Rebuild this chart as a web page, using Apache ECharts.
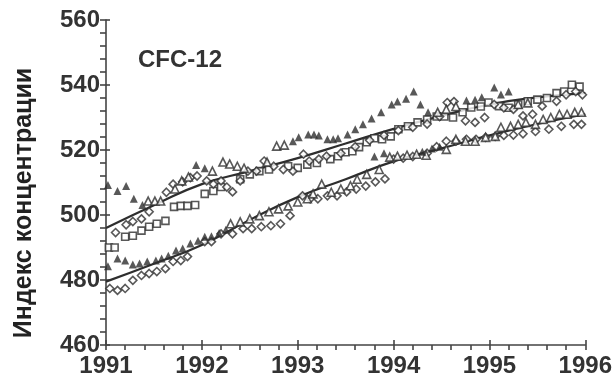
<!DOCTYPE html>
<html>
<head>
<meta charset="utf-8">
<script src="https://cdn.jsdelivr.net/npm/echarts@6/dist/echarts.min.js"></script>
<style>
  html, body { margin: 0; padding: 0; background: #fff; }
  #chart { width: 615px; height: 378px; }
</style>
</head>
<body>
<div id="chart"></div>
<script>
// axis ticks
var xTicks = [1991, 1992, 1993, 1994, 1995, 1996];
var yTicks = [460, 480, 500, 520, 540, 560];

// upper group (year, value)
var upFilledTri = [
  [1991.02, 509.2], [1991.12, 507.4], [1991.21, 508.9], [1991.29, 505.0], [1991.38, 503.1],
  [1991.94, 515.4], [1992.03, 514.4],
  [1992.95, 522.7], [1993.01, 523.9], [1993.11, 524.8], [1993.17, 524.8], [1993.22, 524.5],
  [1993.31, 523.3], [1993.37, 523.3], [1993.42, 523.6], [1993.52, 524.8], [1993.60, 526.4],
  [1993.68, 527.9], [1993.77, 529.7], [1993.87, 531.6], [1993.98, 534.0], [1994.04, 534.9],
  [1994.13, 535.8], [1994.21, 538.0], [1994.28, 534.0], [1994.36, 531.6],
  [1994.76, 535.2], [1994.85, 535.5], [1994.92, 536.2],
  [1995.05, 539.2], [1995.12, 537.1], [1995.20, 538.0]
];
var upOpenTri = [
  [1991.44, 504.3], [1991.51, 504.3], [1991.57, 504.3], [1991.72, 508.0], [1991.79, 510.5],
  [1991.86, 511.7], [1992.11, 513.5], [1992.22, 516.3], [1992.29, 515.7], [1992.37, 515.0],
  [1992.44, 514.4], [1992.68, 516.3], [1992.78, 521.2], [1992.86, 521.5],
  [1994.46, 531.6], [1994.55, 532.5], [1994.65, 533.4], [1995.30, 534.0], [1995.40, 534.5]
];
var upDiamond = [
  [1991.10, 494.6], [1991.21, 497.0], [1991.28, 498.0], [1991.37, 498.8], [1991.45, 501.0],
  [1991.63, 507.0], [1991.70, 509.5], [1991.80, 510.2], [1991.88, 511.5], [1991.95, 512.0],
  [1992.05, 510.5], [1992.12, 509.5], [1992.20, 510.5], [1992.26, 508.6], [1992.32, 507.1],
  [1992.40, 510.5], [1992.48, 513.5], [1992.57, 513.5], [1992.65, 516.6], [1992.75, 515.0],
  [1992.85, 514.0], [1992.95, 513.5], [1993.06, 518.7], [1993.12, 516.6], [1993.22, 517.2],
  [1993.30, 518.1], [1993.45, 519.0], [1993.60, 521.0], [1993.75, 523.0], [1993.90, 524.5],
  [1994.05, 526.0], [1994.20, 527.0], [1994.35, 528.0], [1994.48, 530.3], [1994.56, 534.6],
  [1994.63, 534.9], [1994.75, 529.0], [1994.85, 528.5], [1994.95, 530.0], [1995.05, 534.0],
  [1995.15, 533.0], [1995.25, 532.5], [1995.35, 530.5], [1995.45, 531.0], [1995.55, 533.5],
  [1995.70, 535.0], [1995.80, 537.0], [1995.90, 538.0], [1995.97, 537.0]
];
var upSquare = [
  [1991.03, 490.0], [1991.09, 490.0], [1991.20, 493.3], [1991.28, 493.6], [1991.37, 495.2],
  [1991.45, 496.4], [1991.53, 497.3], [1991.62, 498.2], [1991.71, 502.5], [1991.78, 502.8],
  [1991.85, 502.8], [1991.93, 503.1], [1992.03, 506.5], [1992.12, 507.4], [1992.20, 508.6],
  [1992.40, 511.0], [1992.50, 512.5], [1992.60, 513.5], [1992.70, 514.0], [1992.90, 515.0],
  [1993.00, 514.5], [1993.10, 515.5], [1993.20, 516.0], [1993.34, 517.2], [1993.42, 518.1],
  [1993.50, 519.3], [1993.57, 519.6], [1993.64, 520.9], [1993.72, 522.4], [1993.80, 523.6],
  [1993.88, 523.3], [1993.97, 524.2], [1994.05, 526.4], [1994.15, 527.3], [1994.25, 528.5],
  [1994.35, 529.4], [1994.45, 530.3], [1994.53, 530.3], [1994.62, 530.0], [1994.72, 531.6],
  [1994.81, 533.1], [1994.91, 533.4], [1994.99, 534.6], [1995.10, 533.5], [1995.20, 533.0],
  [1995.30, 534.0], [1995.40, 535.0], [1995.50, 535.5], [1995.60, 536.0], [1995.70, 537.5],
  [1995.78, 538.0], [1995.86, 540.1], [1995.94, 539.5]
];

// lower group
var lowFilledTri = [
  [1991.02, 484.2], [1991.12, 486.6], [1991.20, 486.0], [1991.28, 484.8], [1991.35, 485.1],
  [1991.43, 485.7], [1991.52, 486.0], [1991.58, 486.6], [1991.65, 487.5], [1991.73, 489.1],
  [1991.80, 489.7], [1991.88, 491.2], [1991.96, 492.1], [1992.03, 493.3], [1992.10, 493.5],
  [1992.18, 494.5], [1992.25, 495.5],
  [1993.80, 518.0], [1993.90, 519.0], [1994.30, 519.5], [1994.40, 520.5], [1994.48, 521.0]
];
var lowOpenTri = [
  [1992.30, 497.3], [1992.40, 497.9], [1992.50, 498.8], [1992.60, 499.8], [1992.70, 501.0],
  [1992.80, 501.9], [1992.90, 502.8], [1993.00, 504.0], [1993.10, 505.0], [1993.16, 506.5],
  [1993.25, 509.5], [1993.35, 507.0], [1993.45, 508.0], [1993.55, 509.0], [1993.62, 511.0],
  [1993.72, 512.5], [1993.85, 514.0], [1993.96, 517.8], [1994.04, 518.1], [1994.14, 518.4],
  [1994.24, 518.7], [1994.34, 518.4], [1994.55, 520.2], [1994.65, 523.3], [1994.75, 522.7],
  [1994.85, 522.7], [1994.96, 523.9], [1995.06, 524.2], [1995.12, 527.0], [1995.22, 527.3],
  [1995.30, 527.9], [1995.38, 528.5], [1995.48, 527.9], [1995.56, 529.4], [1995.64, 530.0],
  [1995.73, 531.0], [1995.81, 531.0], [1995.89, 531.6], [1995.96, 531.6]
];
var lowDiamond = [
  [1991.04, 477.4], [1991.12, 476.8], [1991.20, 477.4], [1991.28, 479.9], [1991.37, 481.4],
  [1991.45, 482.0], [1991.53, 482.6], [1991.62, 483.5], [1991.70, 485.7], [1991.78, 486.0],
  [1991.85, 487.2], [1992.03, 491.8], [1992.10, 491.8], [1992.20, 494.2], [1992.32, 494.2],
  [1992.43, 495.8], [1992.52, 495.8], [1992.62, 496.4], [1992.72, 496.7], [1992.82, 497.3],
  [1992.92, 499.8], [1993.05, 505.9], [1993.13, 505.0], [1993.21, 505.0], [1993.31, 505.9],
  [1993.41, 505.9], [1993.51, 507.1], [1993.61, 508.0], [1993.71, 508.9], [1993.81, 510.2],
  [1993.91, 511.1], [1994.00, 517.2], [1994.10, 517.5], [1994.20, 518.0], [1994.35, 519.0],
  [1994.45, 521.0], [1994.55, 522.7], [1994.65, 522.7], [1994.76, 523.3], [1994.86, 523.3],
  [1994.96, 523.9], [1995.06, 524.2], [1995.15, 524.5], [1995.25, 524.6], [1995.35, 525.0],
  [1995.48, 525.7], [1995.62, 526.4], [1995.75, 527.3], [1995.88, 527.9], [1995.96, 527.9]
];

// fitted curves
var upFit = [
  [1991.0, 496.0], [1991.5, 503.0], [1992.0, 509.5], [1992.5, 513.5], [1993.0, 517.5],
  [1993.5, 522.0], [1994.0, 526.5], [1994.5, 530.5], [1995.0, 534.0], [1995.5, 536.2], [1996.0, 537.5]
];
var lowFit = [
  [1991.0, 479.5], [1991.5, 485.0], [1992.0, 490.8], [1992.5, 498.5], [1993.0, 505.5],
  [1993.5, 511.0], [1994.0, 516.5], [1994.5, 520.5], [1995.0, 524.5], [1995.5, 528.0], [1996.0, 531.0]
];

var ink = '#2e2e2e';
var font = 'Liberation Sans, Arial, sans-serif';

function markers(data, symbol, size, filled) {
    return {
        type: 'scatter',
        data: data,
        symbol: symbol,
        symbolSize: size,
        itemStyle: {
            color: filled ? ink : '#fff',
            borderColor: ink,
            borderWidth: filled ? 0 : 1.6
        },
        z: 3
    };
}

function fitLine(data) {
    return {
        type: 'line',
        data: data,
        smooth: true,
        showSymbol: false,
        lineStyle: { color: ink, width: 2.2 },
        z: 2
    };
}

var chart = echarts.init(document.getElementById('chart'));

var tickStyle = { color: '#444', width: 1.6 };

var baseX = {
    type: 'value',
    min: xTicks[0],
    max: xTicks[xTicks.length - 1],
    interval: 1,
    position: 'bottom',
    splitLine: { show: false }
};
var baseY = {
    type: 'value',
    min: yTicks[0],
    max: yTicks[yTicks.length - 1],
    interval: 20,
    position: 'left',
    splitLine: { show: false }
};

var option = {
    animation: false,
    title: {
        text: 'CFC-12',
        left: 133,
        top: 43,
        textStyle: { fontFamily: font, fontSize: 24, fontWeight: 'bold', color: '#333' }
    },
    graphic: [{
        type: 'text',
        x: 24,
        y: 203,
        rotation: Math.PI / 2,
        style: {
            text: 'Индекс концентрации',
            font: 'bold 25px ' + font,
            fill: '#222',
            align: 'center',
            verticalAlign: 'middle'
        }
    }],
    grid: { left: 106, right: 20, top: 20, bottom: 32 },
    xAxis: [
        Object.assign({}, baseX, {
            axisLine: { lineStyle: tickStyle },
            axisTick: { length: 5, lineStyle: tickStyle },
            minorTick: { show: true, splitNumber: 5, length: 5, lineStyle: tickStyle },
            axisLabel: {
                fontFamily: font, fontSize: 24, fontWeight: 'bold', color: '#333', margin: 9,
                formatter: function (v) { return String(v); }
            }
        }),
        Object.assign({}, baseX, {
            axisLine: { show: false },
            axisTick: { inside: true, length: 5, lineStyle: tickStyle },
            axisLabel: { show: false },
            offset: 0
        })
    ],
    yAxis: [
        Object.assign({}, baseY, {
            axisLine: { lineStyle: tickStyle },
            axisTick: { length: 6, lineStyle: tickStyle },
            minorTick: { show: true, splitNumber: 5, length: 6, lineStyle: tickStyle },
            axisLabel: { fontFamily: font, fontSize: 24, fontWeight: 'bold', color: '#333', margin: 6 }
        }),
        Object.assign({}, baseY, {
            axisLine: { show: false },
            axisTick: { inside: true, length: 4, lineStyle: tickStyle },
            axisLabel: { show: false },
            offset: 0
        })
    ],
    series: [
        fitLine(upFit),
        fitLine(lowFit),
        markers(upSquare, 'rect', 7, false),
        markers(upDiamond, 'diamond', 8, false),
        markers(upOpenTri, 'triangle', 8, false),
        markers(upFilledTri, 'triangle', 8, true),
        markers(lowDiamond, 'diamond', 8, false),
        markers(lowOpenTri, 'triangle', 8, false),
        markers(lowFilledTri, 'triangle', 8, true)
    ]
};

chart.setOption(option);
</script>
</body>
</html>
